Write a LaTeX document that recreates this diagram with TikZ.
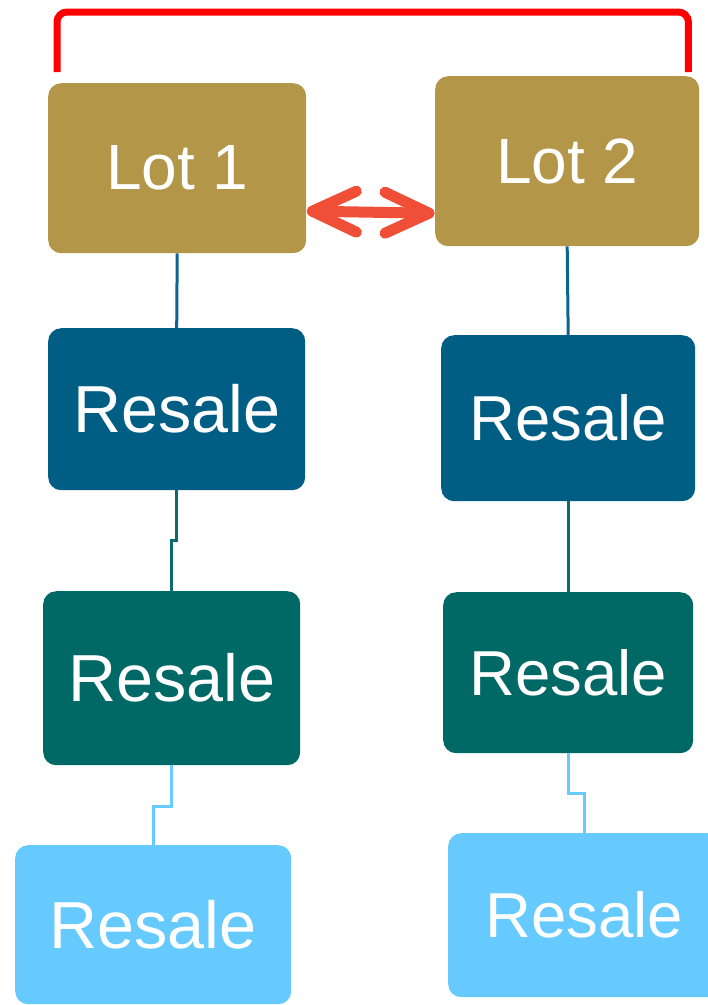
\documentclass[tikz,border=0pt]{standalone}
\usepackage{fontspec}
\setmainfont{Liberation Sans}
\usetikzlibrary{arrows.meta}

\definecolor{lotgold}{HTML}{B39647}
\definecolor{resblue}{HTML}{005E85}
\definecolor{resteal}{HTML}{006865}
\definecolor{reslight}{HTML}{66CAFF}
\definecolor{linkblue}{HTML}{0A6590}
\definecolor{linkteal}{HTML}{0B6A6A}
\definecolor{linklight}{HTML}{66CCFF}
\definecolor{swapred}{HTML}{F04E37}
\definecolor{groupred}{HTML}{FF0000}

\tikzset{
  box/.style={rounded corners=13pt, anchor=north west, inner sep=0pt,
    text=white},
  lotbox/.style={box, fill=lotgold, font=\fontsize{64}{76}\selectfont},
  tier1/.style={box, fill=resblue},
  tier2/.style={box, fill=resteal},
  tier3/.style={box, fill=reslight},
  bigtext/.style={font=\fontsize{66.5}{78}\selectfont},
  smalltext/.style={font=\fontsize{63.5}{76}\selectfont},
  link/.style={line width=3pt},
  swap/.style={draw=swapred, line width=11pt, line cap=round, line join=round},
  group/.style={draw=groupred, line width=7pt, rounded corners=10pt},
}

\begin{document}
\begin{tikzpicture}[x=1pt, y=1pt]
  \useasboundingbox (0,0) rectangle (708,-1005);

  % lots
  \node[lotbox, minimum width=258pt, minimum height=170pt] (lot1) at (48,-83) {Lot 1};
  \node[lotbox, minimum width=264pt, minimum height=170pt] (lot2) at (435,-76) {Lot 2};

  % left resale chain
  \node[tier1, bigtext, minimum width=257pt, minimum height=162pt] (l1) at (48,-328) {Resale};
  \node[tier2, bigtext, minimum width=257pt, minimum height=174pt] (l2) at (43,-591) {Resale};
  \node[tier3, bigtext, minimum width=276pt, minimum height=159pt] (l3) at (15,-845) {Resale};

  % right resale chain
  \node[tier1, smalltext, minimum width=254pt, minimum height=166pt] (r1) at (441,-335) {Resale};
  \node[tier2, smalltext, minimum width=250pt, minimum height=161pt] (r2) at (443,-592) {Resale};
  \node[tier3, smalltext, minimum width=272pt, minimum height=164pt] (r3) at (448,-833) {Resale};

  % chain links
  \draw[link, draw=linkblue] (lot1.south) -- (l1.north);
  \draw[link, draw=linkteal] (l1.south) -- ++(0,-50) -| (l2.north);
  \draw[link, draw=linklight, line width=3.4pt] (l2.south) -- ++(0,-41) -| (l3.north);
  \draw[link, draw=linkblue] (lot2.south) -- (r1.north);
  \draw[link, draw=linkteal] (r1.south) -- (r2.north);
  \draw[link, draw=linklight, line width=3.4pt] (r2.south) -- ++(0,-40) -| (r3.north);

  % exchange between the two lots
  \coordinate (sL) at ([xshift=6pt, yshift=-43pt]lot1.east);
  \coordinate (sR) at ([xshift=-6pt, yshift=-52pt]lot2.west);
  \draw[swap] (sL) -- (sR);
  \draw[swap] ([shift={(44,20)}]sL) -- (sL) -- ([shift={(44,-21)}]sL);
  \draw[swap] ([shift={(-44,21)}]sR) -- (sR) -- ([shift={(-44,-20)}]sR);

  % bracket grouping both lots
  \draw[group] ([shift={(9,11)}]lot1.north west) -- ++(0,60) -| ([shift={(-11,4)}]lot2.north east);
\end{tikzpicture}
\end{document}
